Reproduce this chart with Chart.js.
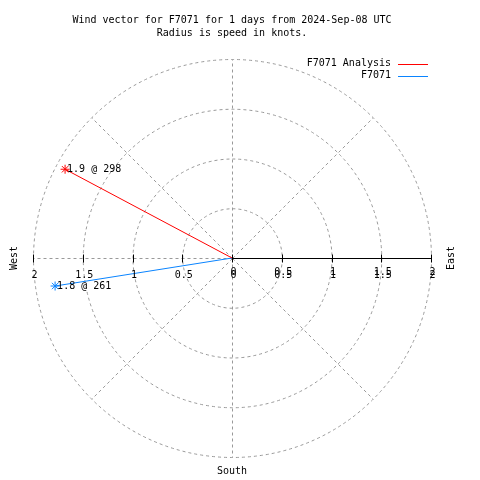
<!DOCTYPE html>
<html>
<head>
<meta charset="utf-8">
<title>Wind vector F7071</title>
<script src="https://cdn.jsdelivr.net/npm/chart.js@4"></script>
<style>
  body { margin: 0; background: #fff; }
  canvas { display: block; }
</style>
</head>
<body>
<canvas id="windChart" width="480" height="480"></canvas>
<script>
// data
const seriesNames = ['F7071 Analysis', 'F7071'];
const speeds = [1.9, 1.8];          // knots
const directions = [298, 261];      // degrees, compass
const seriesColors = ['#ff0000', '#0a84ff'];

const tickValues = [-2, -1.5, -1, -0.5, 0, 0.5, 1, 1.5, 2];
const tickLabels = ['2', '1.5', '1', '0.5', '0', '0.5', '1', '1.5', '2'];
const ringRadii = [0.5, 1, 1.5, 2];
const spokeAngles = [0, 45, 90, 135, 180, 225, 270, 315];

const titleLines = ['Wind vector for F7071 for 1 days from 2024-Sep-08 UTC', 'Radius is speed in knots.'];
const FONT = '10px "DejaVu Sans Mono", "Liberation Mono", monospace';

// compass direction -> x (east) / y (north)
function toXY(speed, dir) {
    const a = dir * Math.PI / 180;
    return { x: speed * Math.sin(a), y: speed * Math.cos(a) };
}

const datasets = seriesNames.map((name, i) => ({
    label: name,
    data: [{ x: 0, y: 0 }, toXY(speeds[i], directions[i])],
    showLine: true,
    borderColor: seriesColors[i],
    backgroundColor: seriesColors[i],
    borderWidth: 1,
    pointStyle: 'star',
    pointRadius: [0, 4.5],
    pointBorderWidth: 1,
    pointBorderColor: seriesColors[i],
    clip: false
}));

const polarGrid = {
    id: 'polarGrid',
    beforeDatasetsDraw(chart) {
        const { ctx, scales: { x, y } } = chart;
        const cx = Math.round(x.getPixelForValue(0)) + 0.5;
        const cy = Math.round(y.getPixelForValue(0)) + 0.5;
        const unit = x.getPixelForValue(1) - x.getPixelForValue(0);
        ctx.save();
        ctx.strokeStyle = '#999999';
        ctx.lineWidth = 1;
        ctx.setLineDash([3, 3]);
        ringRadii.forEach(r => {
            ctx.beginPath();
            ctx.arc(cx, cy, r * unit, 0, Math.PI * 2);
            ctx.stroke();
        });
        const rMax = ringRadii[ringRadii.length - 1] * unit;
        spokeAngles.forEach(deg => {
            const a = deg * Math.PI / 180;
            ctx.beginPath();
            ctx.moveTo(cx, cy);
            ctx.lineTo(cx + rMax * Math.sin(a), cy - rMax * Math.cos(a));
            ctx.stroke();
        });
        ctx.setLineDash([]);
        // solid axis on the east half
        ctx.strokeStyle = '#000';
        ctx.beginPath();
        ctx.moveTo(cx, cy);
        ctx.lineTo(Math.round(x.getPixelForValue(2)) + 0.5, cy);
        ctx.stroke();
        // tick marks
        tickValues.forEach(v => {
            const px = Math.round(x.getPixelForValue(v)) + 0.5;
            ctx.beginPath();
            ctx.moveTo(px, cy - 4);
            ctx.lineTo(px, cy + 4);
            ctx.stroke();
        });
        ctx.restore();
    },
    afterDatasetsDraw(chart) {
        const { ctx, scales: { x, y } } = chart;
        const cx = x.getPixelForValue(0);
        const cy = y.getPixelForValue(0);
        ctx.save();
        ctx.font = FONT;
        ctx.fillStyle = '#000';
        ctx.textBaseline = 'middle';
        ctx.textAlign = 'center';
        // tick labels, east side printed twice like the original
        tickValues.forEach((v, i) => {
            const px = x.getPixelForValue(v) + 1.5;
            if (v >= 0) {
                ctx.fillText(tickLabels[i], px, cy + 14);
                ctx.fillText(tickLabels[i], px, cy + 17);
            } else {
                ctx.fillText(tickLabels[i], px, cy + 17);
            }
        });
        // vector end labels
        ctx.textAlign = 'left';
        seriesNames.forEach((name, i) => {
            const p = toXY(speeds[i], directions[i]);
            ctx.fillText(speeds[i].toFixed(1) + ' @ ' + directions[i],
                x.getPixelForValue(p.x) + 2, y.getPixelForValue(p.y));
        });
        // compass words
        ctx.textAlign = 'center';
        ctx.fillText('South', cx, 471);
        ctx.save();
        ctx.translate(14, cy);
        ctx.rotate(-Math.PI / 2);
        ctx.fillText('West', 0, 0);
        ctx.restore();
        ctx.save();
        ctx.translate(451, cy);
        ctx.rotate(-Math.PI / 2);
        ctx.fillText('East', 0, 0);
        ctx.restore();
        // legend top right
        ctx.textAlign = 'right';
        seriesNames.forEach((name, i) => {
            const ly = 63.5 + i * 12;
            ctx.fillText(name, 391, ly);
            ctx.strokeStyle = seriesColors[i];
            ctx.lineWidth = 1;
            ctx.beginPath();
            ctx.moveTo(398, Math.round(ly) + 0.5);
            ctx.lineTo(428, Math.round(ly) + 0.5);
            ctx.stroke();
        });
        ctx.restore();
    }
};

new Chart(document.getElementById('windChart'), {
    type: 'scatter',
    data: { datasets: datasets },
    options: {
        responsive: false,
        animation: false,
        devicePixelRatio: 1,
        layout: { padding: { left: 33, right: 49, top: 0, bottom: 23 } },
        scales: {
            x: { type: 'linear', min: -2, max: 2, display: false },
            y: { type: 'linear', min: -2, max: 2, display: false }
        },
        plugins: {
            legend: { display: false },
            tooltip: { enabled: false },
            title: {
                display: true,
                text: titleLines,
                color: '#000',
                font: { family: '"DejaVu Sans Mono", "Liberation Mono", monospace', size: 10, weight: 'normal', lineHeight: 1.3 },
                padding: { top: 14, bottom: 19 }
            }
        }
    },
    plugins: [polarGrid]
});
</script>
</body>
</html>
